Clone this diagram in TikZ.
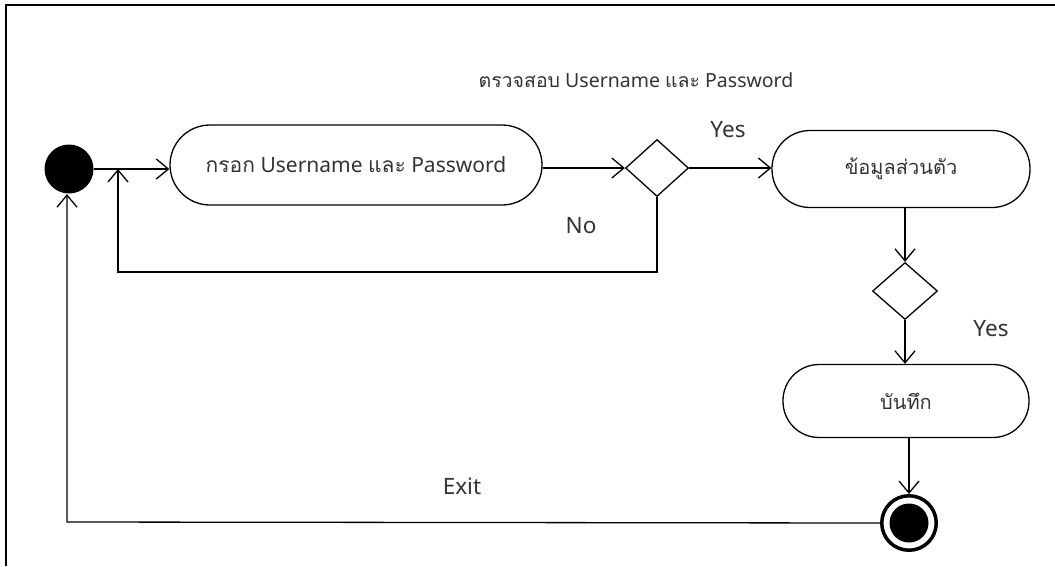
\documentclass[tikz,border=0pt]{standalone}
\usepackage{fontspec}
\setmainfont{Noto Sans}
\newfontfamily\thaifont[Script=Thai]{Loma}
\usetikzlibrary{arrows.meta,shapes.geometric}
\begin{document}
\begin{tikzpicture}[x=1pt,y=-1pt,line width=1.3pt,
  arr/.style={-{Straight Barb[length=12pt,width=20pt,line width=1.3pt]}},
  lbl/.style={font=\fontsize{22.5}{26}\selectfont,inner sep=0pt,text=black!80},
  act/.style={draw,rectangle,inner sep=0pt,font=\fontsize{20}{24}\selectfont,text=black!80},
  dec/.style={draw,diamond,inner sep=0pt}
]
\useasboundingbox (0,0) rectangle (1055,566);
% frame
\draw[line width=1.5pt] (6,566) -- (6,5) -- (1055,5);

% nodes
\node[circle,fill=black,minimum size=49pt,inner sep=0pt] (init) at (69,169) {};
\node[act,rounded corners=40pt,minimum width=372pt,minimum height=80pt] (act1) at (356,165)
  {\fontsize{21}{25}\selectfont{\thaifont กรอก} Username {\thaifont และ} Password};
\node[dec,minimum width=63pt,minimum height=57pt] (dia1) at (657,168) {};
\node[act,rounded corners=38pt,minimum width=258pt,minimum height=77pt] (act2) at (901,169)
  {{\thaifont ข้อมูลส่วนตัว}};
\node[dec,minimum width=65pt,minimum height=57pt] (dia2) at (905,291) {};
\node[act,rounded corners=36pt,minimum width=246pt,minimum height=73pt] (act3) at (906,401)
  {{\thaifont บันทึก}};
\node[circle,draw,line width=3.5pt,minimum size=54.5pt,inner sep=0pt,
  path picture={\fill (path picture bounding box.center) circle (19.5pt);}] (final) at (909,523) {};

% labels
\node[lbl,font=\fontsize{19.5}{23}\selectfont] (title) at (636,80) {{\thaifont ตรวจสอบ} Username {\thaifont และ} Password};
\node[lbl] (yes1) at (728,130) {Yes};
\node[lbl] (no1) at (581,226) {No};
\node[lbl] (yes2) at (991,329) {Yes};
\node[lbl] (exit) at (462,486) {Exit};

% stray top line of act3
\coordinate (sa) at (838,364);
\coordinate (sb) at (952,364);
\draw[line width=1pt] (sa) -- (sb);

% connectors
\draw[arr] (init.east) -- (act1.west |- init.east);
\draw[arr] (act1.east |- dia1.west) -- (dia1.west);
\draw[arr] (dia1.east) -- (act2.west |- dia1.east);
\coordinate (loopc) at (118,272);
\draw[arr] (dia1.south) |- (loopc) -- (loopc |- init.east);
\draw[arr] (dia2.north |- act2.south) -- (dia2.north);
\draw[arr] (dia2.south) -- (dia2.south |- act3.north);
\draw[arr] (final.north |- act3.south) -- (final.north);
\coordinate (exitc) at (67,522);
\draw[arr] (final.west) -- (exitc) -- (exitc |- init.south);
\end{tikzpicture}
\end{document}
